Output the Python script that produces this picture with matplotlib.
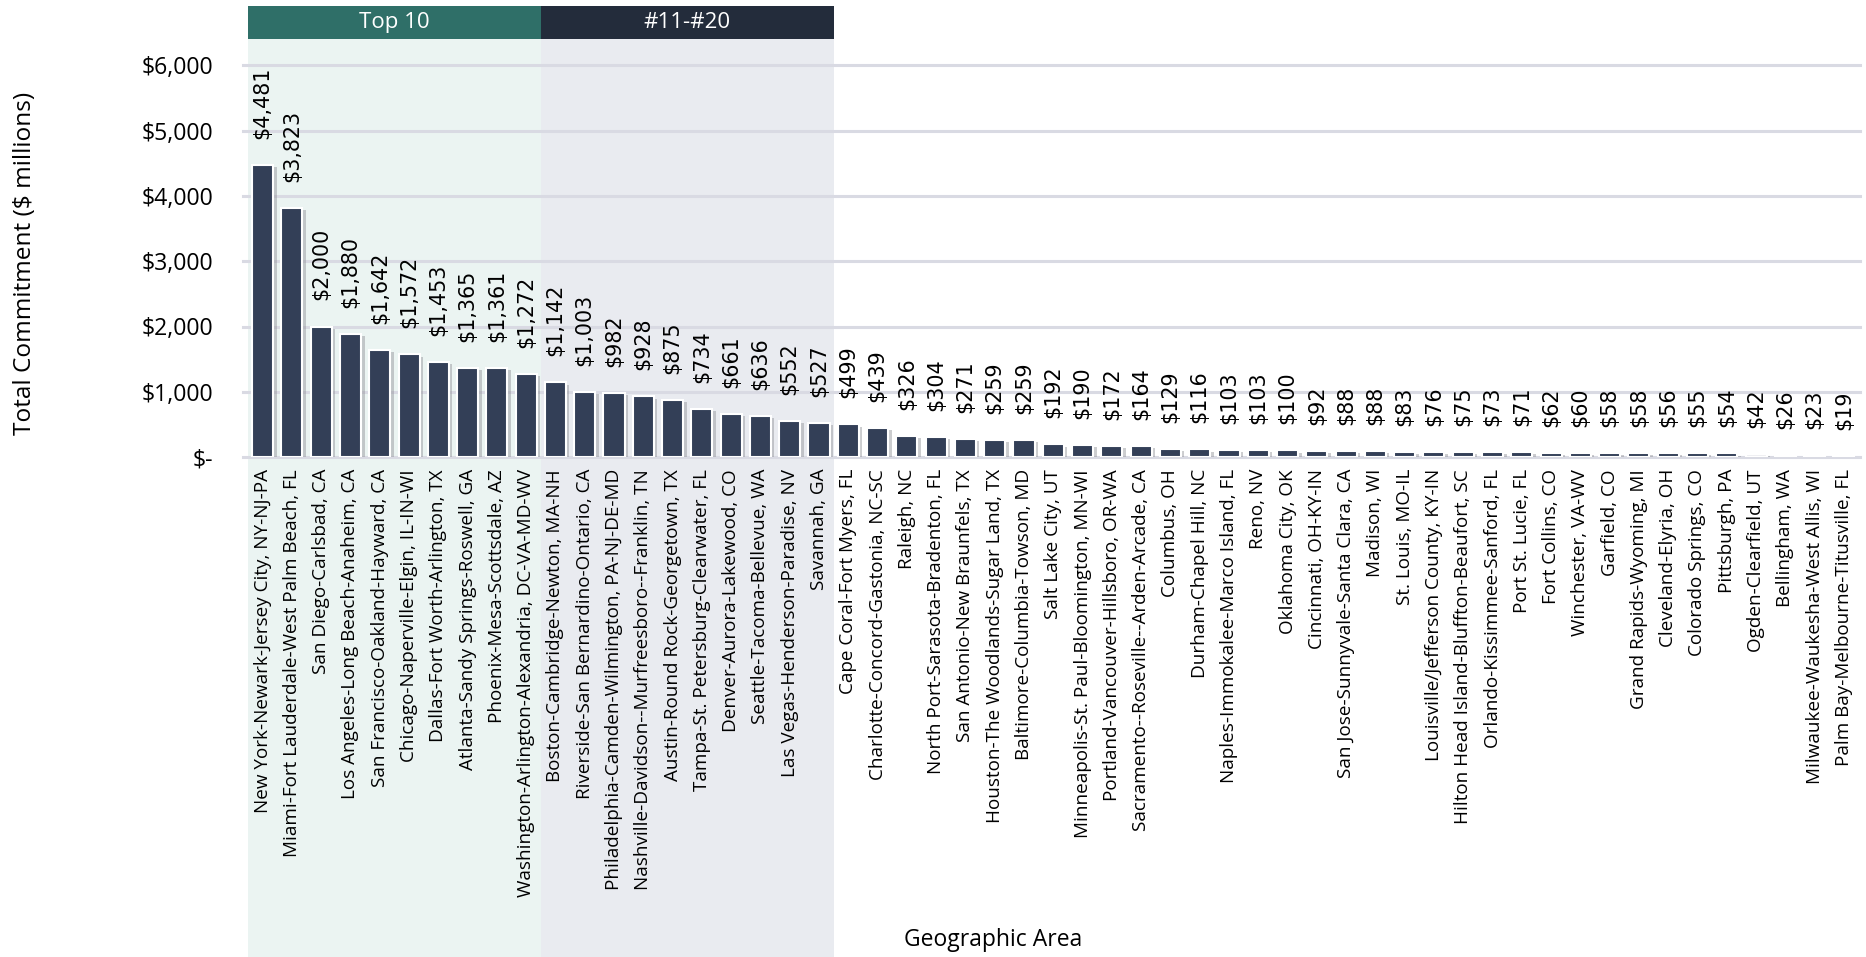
import matplotlib
matplotlib.use("Agg")
import matplotlib.pyplot as plt
from matplotlib.patches import Rectangle
from matplotlib.transforms import blended_transform_factory
import matplotlib.patheffects as pe
from matplotlib import font_manager

areas = [
    "New York-Newark-Jersey City, NY-NJ-PA",
    "Miami-Fort Lauderdale-West Palm Beach, FL",
    "San Diego-Carlsbad, CA",
    "Los Angeles-Long Beach-Anaheim, CA",
    "San Francisco-Oakland-Hayward, CA",
    "Chicago-Naperville-Elgin, IL-IN-WI",
    "Dallas-Fort Worth-Arlington, TX",
    "Atlanta-Sandy Springs-Roswell, GA",
    "Phoenix-Mesa-Scottsdale, AZ",
    "Washington-Arlington-Alexandria, DC-VA-MD-WV",
    "Boston-Cambridge-Newton, MA-NH",
    "Riverside-San Bernardino-Ontario, CA",
    "Philadelphia-Camden-Wilmington, PA-NJ-DE-MD",
    "Nashville-Davidson--Murfreesboro--Franklin, TN",
    "Austin-Round Rock-Georgetown, TX",
    "Tampa-St. Petersburg-Clearwater, FL",
    "Denver-Aurora-Lakewood, CO",
    "Seattle-Tacoma-Bellevue, WA",
    "Las Vegas-Henderson-Paradise, NV",
    "Savannah, GA",
    "Cape Coral-Fort Myers, FL",
    "Charlotte-Concord-Gastonia, NC-SC",
    "Raleigh, NC",
    "North Port-Sarasota-Bradenton, FL",
    "San Antonio-New Braunfels, TX",
    "Houston-The Woodlands-Sugar Land, TX",
    "Baltimore-Columbia-Towson, MD",
    "Salt Lake City, UT",
    "Minneapolis-St. Paul-Bloomington, MN-WI",
    "Portland-Vancouver-Hillsboro, OR-WA",
    "Sacramento--Roseville--Arden-Arcade, CA",
    "Columbus, OH",
    "Durham-Chapel Hill, NC",
    "Naples-Immokalee-Marco Island, FL",
    "Reno, NV",
    "Oklahoma City, OK",
    "Cincinnati, OH-KY-IN",
    "San Jose-Sunnyvale-Santa Clara, CA",
    "Madison, WI",
    "St. Louis, MO-IL",
    "Louisville/Jefferson County, KY-IN",
    "Hilton Head Island-Bluffton-Beaufort, SC",
    "Orlando-Kissimmee-Sanford, FL",
    "Port St. Lucie, FL",
    "Fort Collins, CO",
    "Winchester, VA-WV",
    "Garfield, CO",
    "Grand Rapids-Wyoming, MI",
    "Cleveland-Elyria, OH",
    "Colorado Springs, CO",
    "Pittsburgh, PA",
    "Ogden-Clearfield, UT",
    "Bellingham, WA",
    "Milwaukee-Waukesha-West Allis, WI",
    "Palm Bay-Melbourne-Titusville, FL",
]

commitment = [
    4481, 3823, 2000, 1880, 1642, 1572, 1453, 1365, 1361, 1272,
    1142, 1003, 982, 928, 875, 734, 661, 636, 552, 527,
    499, 439, 326, 304, 271, 259, 259, 192, 190, 172,
    164, 129, 116, 103, 103, 100, 92, 88, 88, 83,
    76, 75, 73, 71, 62, 60, 58, 58, 56, 55,
    54, 42, 26, 23, 19,
]

group_labels = ["Top 10", "#11-#20"]
group_sizes = [10, 10]

y_ticks = [0, 1000, 2000, 3000, 4000, 5000, 6000]

available = {f.name for f in font_manager.fontManager.ttflist}
sans = "Open Sans" if "Open Sans" in available else "DejaVu Sans"
label_font = "DejaVu Sans"

W, H = 1866, 957
fig = plt.figure(figsize=(W / 100, H / 100), dpi=100)
renderer = fig.canvas.get_renderer()


def fit_size(s, family, target_px, base=10.0):
    t = fig.text(0, 0, s, fontsize=base, family=family)
    w = t.get_window_extent(renderer).width
    t.remove()
    return base * target_px / w


ytick_fs = fit_size("$6,000", sans, 72)
xtick_fs = fit_size("San Diego-Carlsbad, CA", sans, 205)
value_fs = fit_size("$4,481", label_font, 72)
ylab_fs = fit_size("Total Commitment ($ millions)", sans, 343)
xlab_fs = fit_size("Geographic Area", sans, 178)

ax = fig.add_axes([248 / W, 1 - 457 / H, (1860 - 248) / W, (457 - 65.5) / H])
ax.set_facecolor("none")

n = len(commitment)
x = list(range(n))
bar_color = "#333F57"
colors = [bar_color if v >= 50 else "#EEEEF1" for v in commitment]

bars = ax.bar(x, commitment, width=0.72, color=colors, edgecolor="white",
              linewidth=1.5, zorder=3)
for b in bars:
    b.set_path_effects([pe.SimplePatchShadow(offset=(2.5, -1.5), shadow_rgbFace="#8f9096", alpha=0.45),
                        pe.Normal()])

gap_pt = 26 * 72 / 100
for xi, v in zip(x, commitment):
    ax.annotate(f"${v:,}", xy=(xi, v), xytext=(0, gap_pt), textcoords="offset points",
                rotation=90, ha="center", va="bottom", fontsize=value_fs,
                family=label_font, color="black", zorder=5, annotation_clip=False)

ax.set_xlim(-0.5, n - 0.45)
ax.set_ylim(0, 6000)
ax.set_yticks(y_ticks)
ax.set_yticklabels(["$-" if t == 0 else f"${t:,}" for t in y_ticks],
                   family=sans, fontsize=ytick_fs)
ax.tick_params(axis="y", length=0, pad=(248 - 213) * 72 / 100)
ax.set_xticks(x)
ax.set_xticklabels(areas, rotation=90, family=sans, fontsize=xtick_fs, va="top")
ax.tick_params(axis="x", length=0, pad=12 * 72 / 100)

for t in y_ticks:
    ax.axhline(t, color="#D9DAE3", linewidth=2.2, zorder=1,
               xmin=-0.003, xmax=1.0, clip_on=False)
for s in ax.spines.values():
    s.set_visible(False)

# band backgrounds and headers
trans = blended_transform_factory(ax.transData, fig.transFigure)
band_colors = ["#EBF4F2", "#E9EBF0"]
header_colors = ["#2F6F68", "#232C3B"]
start = -0.5
band_top = 1 - 39 / H
for lab, size, bc, hc in zip(group_labels, group_sizes, band_colors, header_colors):
    ax.add_patch(Rectangle((start, 0), size, band_top, transform=trans,
                           facecolor=bc, edgecolor="none", zorder=0, clip_on=False))
    ax.add_patch(Rectangle((start, band_top), size, (39 - 6) / H, transform=trans,
                           facecolor=hc, edgecolor="none", zorder=0, clip_on=False))
    ax.text(start + size / 2, band_top + (39 - 6) / H / 2, lab, transform=trans,
            ha="center", va="center", color="white", family=sans, fontsize=16)
    start += size

fig.text(25 / W, 1 - 263 / H, "Total Commitment ($ millions)", rotation=90,
         ha="center", va="center", fontsize=ylab_fs, family=sans)
fig.text(993 / W, 1 - 940 / H, "Geographic Area", ha="center", va="center",
         fontsize=xlab_fs, family=sans)

fig.savefig("out.png", dpi=100)
